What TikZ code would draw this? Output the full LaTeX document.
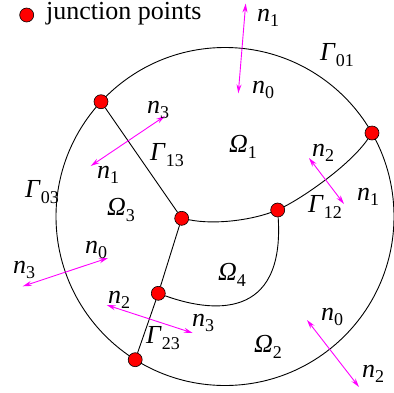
\documentclass[tikz,border=0pt]{standalone}
\usepackage{fontspec}
\setmainfont{Liberation Serif}
\usetikzlibrary{arrows.meta}
\definecolor{mag}{RGB}{255,0,255}
\newcommand\lbl[2]{\textit{#1}\raisebox{-0.22em}{\fontsize{18}{18}\selectfont #2}}
\tikzset{
  junc/.style={circle,draw=black,fill=red,line width=0.6pt,minimum size=14pt,inner sep=0pt},
  bnd/.style={draw=black,line width=0.9pt},
  nrm/.style={draw=mag,line width=0.9pt,{Stealth[length=9pt,width=5pt,fill=mag]}-{Stealth[length=9pt,width=5pt,fill=mag]}},
  lab/.style={inner sep=0pt,font=\fontsize{26}{30}\selectfont},
}
\begin{document}
\begin{tikzpicture}[x=1pt,y=-1pt]
\useasboundingbox (0,0) rectangle (394,392);
\coordinate (C) at (225,216.5);
\draw[bnd] (C) circle[radius=169pt];
% junction points
\node[junc] (j1) at (101,101.7) {};
\node[junc] (j2) at (372,133) {};
\node[junc] (j3) at (181.7,218.3) {};
\node[junc] (j4) at (277.7,210) {};
\node[junc] (j5) at (158.3,293.3) {};
\node[junc] (j6) at (135.2,359.7) {};
% interior boundaries
\draw[bnd] (j1) -- (j3);
\draw[bnd] (j3) -- (j5);
\draw[bnd] (j5) -- (j6);
\draw[bnd] (j3) .. controls (215,225) and (250,220) .. (j4);
\draw[bnd] (j4) .. controls (305,196) and (350,165) .. (j2);
\draw[bnd] (j5) .. controls (210,312) and (285,322) .. (j4);
% legend
\node[junc] (leg) at (26.7,15) {};
\node[lab,anchor=west] (legt) at (46,14) {junction points};
% normals
\coordinate (a1) at (245.7,3.5); \coordinate (b1) at (238.3,93.3);
\draw[nrm] (a1) -- (b1);
\coordinate (a2) at (165,116); \coordinate (b2) at (90.7,166);
\draw[nrm] (a2) -- (b2);
\coordinate (a3) at (309,158); \coordinate (b3) at (344,204);
\draw[nrm] (a3) -- (b3);
\coordinate (a4) at (108,258); \coordinate (b4) at (22.7,286.3);
\draw[nrm] (a4) -- (b4);
\coordinate (a5) at (106.7,305); \coordinate (b5) at (192.7,333);
\draw[nrm] (a5) -- (b5);
\coordinate (a6) at (307,320); \coordinate (b6) at (359,387);
\draw[nrm] (a6) -- (b6);
% labels
\node[lab] (t1) at (268,18) {\lbl{n}{1}};
\node[lab] (t2) at (263,90) {\lbl{n}{0}};
\node[lab] (t3) at (337,55) {\lbl{Γ}{01}};
\node[lab] (t4) at (243,147) {\lbl{Ω}{1}};
\node[lab] (t5) at (323,153) {\lbl{n}{2}};
\node[lab] (t6) at (368,197) {\lbl{n}{1}};
\node[lab] (t7) at (325,207) {\lbl{Γ}{12}};
\node[lab] (t8) at (158,110) {\lbl{n}{3}};
\node[lab] (t9) at (108,175) {\lbl{n}{1}};
\node[lab] (t10) at (167,155) {\lbl{Γ}{13}};
\node[lab] (t11) at (42,192) {\lbl{Γ}{03}};
\node[lab] (t12) at (121,210) {\lbl{Ω}{3}};
\node[lab] (t13) at (96,250) {\lbl{n}{0}};
\node[lab] (t14) at (24,270) {\lbl{n}{3}};
\node[lab] (t15) at (119,300) {\lbl{n}{2}};
\node[lab] (t16) at (203,323) {\lbl{n}{3}};
\node[lab] (t17) at (163,338) {\lbl{Γ}{23}};
\node[lab] (t18) at (232,275) {\lbl{Ω}{4}};
\node[lab] (t19) at (268,347) {\lbl{Ω}{2}};
\node[lab] (t20) at (332,317) {\lbl{n}{0}};
\node[lab] (t21) at (373,374) {\lbl{n}{2}};
\end{tikzpicture}
\end{document}
